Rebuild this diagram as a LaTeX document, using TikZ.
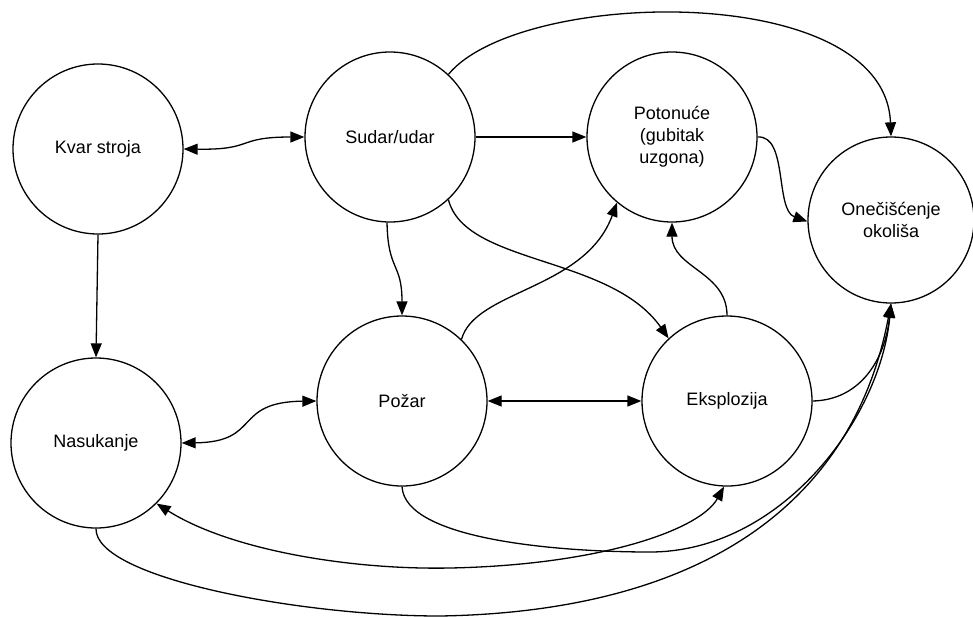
\documentclass[tikz,border=0pt]{standalone}
\usepackage{fontspec}
\setmainfont{Liberation Sans}
\usetikzlibrary{arrows.meta}
\begin{document}
\begin{tikzpicture}[x=1pt,y=-1pt,
  evnode/.style={draw, circle, line width=1.3pt, minimum size=170pt, inner sep=0pt, align=center, font=\fontsize{18}{22}\selectfont},
  tip/.style={Triangle[length=14pt,width=11pt]},
  conn/.style={line width=1.3pt, -{Triangle[length=14pt,width=11pt]}},
  conntwo/.style={line width=1.3pt, {Triangle[length=14pt,width=11pt]}-{Triangle[length=14pt,width=11pt]}}]
\useasboundingbox (0,0) rectangle (973,616);
\fill[white] (0,0) rectangle (973,616);
% nodes
\node[evnode] (K) at (98,149) {Kvar stroja};
\node[evnode] (S) at (390,137) {Sudar/udar};
\node[evnode] (P) at (672,137) {Potonuće\\(gubitak\\uzgona)};
\node[evnode, minimum size=166pt] (O) at (891,220) {Onečišćenje\\okoliša};
\node[evnode] (N) at (96,443) {Nasukanje};
\node[evnode] (Z) at (402,401) {Požar};
\node[evnode] (E) at (727,401) {Eksplozija};
% connectors
\draw[conntwo] (K.east) .. controls (255,150) and (235,137) .. (S.west);
\draw[conn] (K.south) -- (N.north);
\draw[conn] (S.east) -- (P.west);
\draw[conn] (S.47) .. controls (520,-12) and (885,-20) .. (O.north);
\draw[conn] (S.268) .. controls (388,272) and (402,262) .. (Z.north);
\draw[conn] (S.-47) .. controls (465,265) and (610,255) .. (E.133);
\draw[conn] (P.east) .. controls (788,135) and (775,210) .. (O.181);
\draw[conn] (E.north) .. controls (727,272) and (672,268) .. (P.south);
\draw[conn] (Z.46) .. controls (475,290) and (585,290) .. (P.230);
\draw[conntwo] (Z.east) -- (E.west);
\draw[conntwo] (N.east) .. controls (262,442) and (232,402) .. (Z.west);
\draw[conn] (E.east) .. controls (860,400) and (885,360) .. (O.south);
\draw[conn] (Z.south) .. controls (405,540) and (560,552) .. (650,552) .. controls (780,552) and (880,420) .. (O.south);
\draw[conn] (N.south) .. controls (95,578) and (300,616) .. (440,616) .. controls (680,612) and (850,520) .. (O.south);
\draw[conntwo] (N.-45) .. controls (230,550) and (350,570) .. (450,568) .. controls (600,565) and (700,530) .. (E.-92);
\end{tikzpicture}
\end{document}
